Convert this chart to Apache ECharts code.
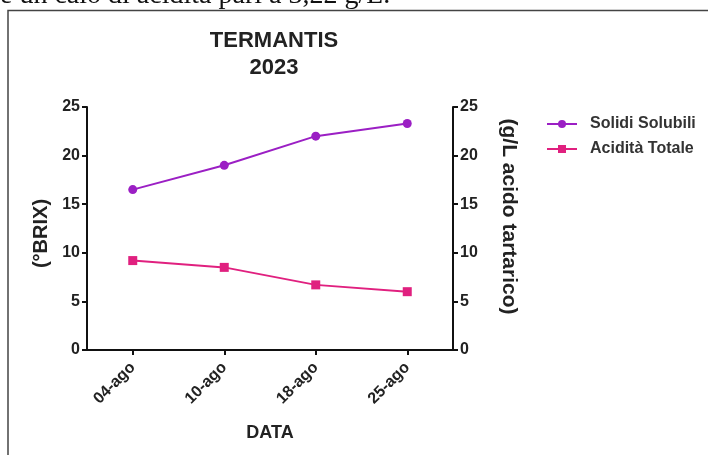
<!DOCTYPE html>
<html>
<head>
<meta charset="utf-8">
<script src="https://cdn.jsdelivr.net/npm/echarts@6/dist/echarts.min.js"></script>
<style>
html,body{margin:0;padding:0;background:#fff;}
#c{width:708px;height:455px;}
</style>
</head>
<body>
<div id="c"></div>
<script>
var categories = ['04-ago', '10-ago', '18-ago', '25-ago'];
var solidiSolubili = [16.5, 19.0, 22.0, 23.3];
var aciditaTotale = [9.2, 8.5, 6.7, 6.0];
var seriesNames = ['Solidi Solubili', 'Acidità Totale'];
var titleLines = ['TERMANTIS', '2023'];
var leftAxisName = '(°BRIX)';
var rightAxisName = '(g/L acido tartarico)';
var xAxisName = 'DATA';
var captionText = 'e un calo di acidità pari a 3,22 g/L.';

var chart = echarts.init(document.getElementById('c'), null, {renderer: 'canvas'});
var font = 'Liberation Sans, Arial, sans-serif';
var axisCommon = {
  min: 0, max: 25, interval: 5,
  axisLine: {show: true, lineStyle: {color: '#111', width: 2}},
  axisTick: {show: true, length: 5, lineStyle: {color: '#111', width: 2}},
  splitLine: {show: false},
  axisLabel: {color: '#222', fontFamily: font, fontWeight: 'bold', fontSize: 16, margin: 7},
  nameLocation: 'middle'
};
chart.setOption({
  animation: false,
  backgroundColor: '#fff',
  graphic: [
    {type: 'text', x: 0, y: -4, style: {text: captionText, font: '28px "Liberation Serif", "Times New Roman", serif', fill: '#111', verticalAlign: 'middle'}},
    {type: 'rect', shape: {x: 8, y: 10.5, width: 720, height: 460}, style: {fill: 'none', stroke: '#444', lineWidth: 1.5}, z: -1},
    {type: 'text', x: 274, y: 41, style: {text: titleLines[0], font: 'bold 22px "Liberation Sans", Arial, sans-serif', fill: '#222', align: 'center', verticalAlign: 'middle'}},
    {type: 'text', x: 274, y: 68, style: {text: titleLines[1], font: 'bold 22px "Liberation Sans", Arial, sans-serif', fill: '#222', align: 'center', verticalAlign: 'middle'}}
  ],
  legend: {
    orient: 'vertical',
    left: 541, top: 111,
    itemWidth: 30, itemHeight: 10, itemGap: 9,
    data: seriesNames,
    textStyle: {fontFamily: font, fontWeight: 'bold', fontSize: 16, color: '#333', padding: [0, 0, 0, 8]}
  },
  grid: {left: 87, right: 255, top: 107, bottom: 105},
  xAxis: {
    type: 'category', data: categories, boundaryGap: true,
    axisLine: {lineStyle: {color: '#111', width: 2}},
    axisTick: {show: true, alignWithLabel: true, length: 5, lineStyle: {color: '#111', width: 2}},
    axisLabel: {rotate: 45, color: '#222', fontFamily: font, fontWeight: 'bold', fontSize: 16, margin: 15},
    name: xAxisName, nameLocation: 'middle', nameGap: 74,
    nameTextStyle: {color: '#222', fontFamily: font, fontWeight: 'bold', fontSize: 18}
  },
  yAxis: [
    Object.assign({}, axisCommon, {type: 'value', position: 'left', name: leftAxisName, nameRotate: 90, nameGap: 28,
      nameTextStyle: {color: '#222', fontFamily: font, fontWeight: 'bold', fontSize: 20, padding: [0, 10, 0, 0]}}),
    Object.assign({}, axisCommon, {type: 'value', position: 'right', name: rightAxisName, nameRotate: -90, nameGap: 45,
      nameTextStyle: {color: '#222', fontFamily: font, fontWeight: 'bold', fontSize: 21, padding: [0, 24, 0, 0]}})
  ],
  series: [
    {name: seriesNames[0], type: 'line', data: solidiSolubili, yAxisIndex: 0,
     symbol: 'circle', symbolSize: 9, color: '#9B1FC4', lineStyle: {width: 2}},
    {name: seriesNames[1], type: 'line', data: aciditaTotale, yAxisIndex: 1,
     symbol: 'rect', symbolSize: 9, color: '#E0207F', lineStyle: {width: 2}}
  ]
});
</script>
</body>
</html>
